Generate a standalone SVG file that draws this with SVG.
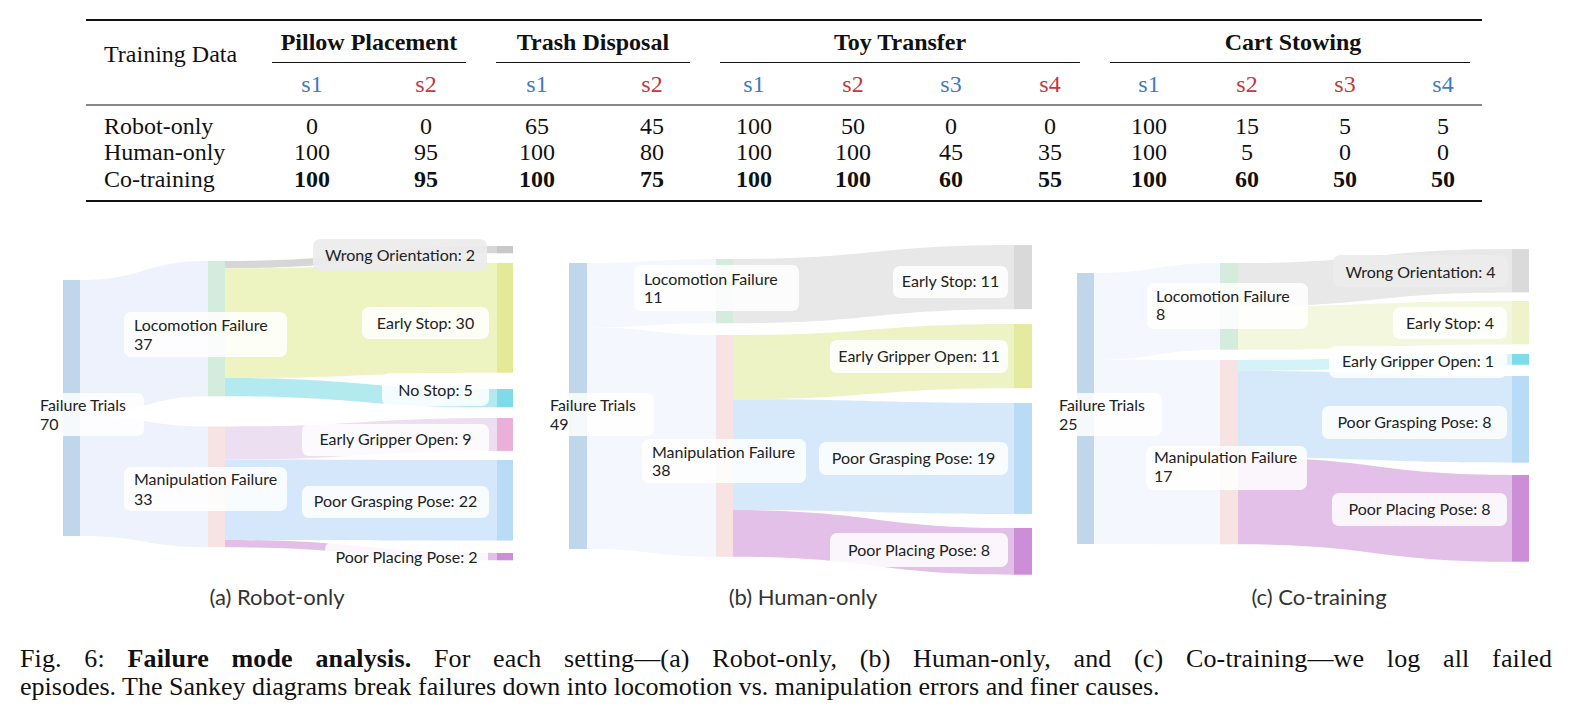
<svg xmlns="http://www.w3.org/2000/svg" width="1574" height="727" viewBox="0 0 1574 727">
<style>
.tt{font-family:"Liberation Serif","Times New Roman",serif;font-size:24px;fill:#111}
.cp{font-family:"Liberation Serif","Times New Roman",serif;font-size:26px;fill:#111}
.b{font-weight:bold}
.c{text-anchor:middle}
.blue{fill:#3b7cc3}
.red{fill:#c5383b}
.lb{fill:#ffffff;fill-opacity:0.85}
.lbg{fill:#ebebeb;fill-opacity:0.92}
.lt{font-family:Lato,"Open Sans",sans-serif;font-size:16px;fill:#222}
.cap{font-family:Lato,"Open Sans",sans-serif;font-size:22px;fill:#333;text-anchor:middle}
.ft{fill:#c0d6ea}.loco{fill:#d3ecdc}.manip{fill:#f8e3e3}
</style>
<rect width="1574" height="727" fill="#ffffff"/>

<g id="table">
<line x1="86" y1="20" x2="1482" y2="20" stroke="#111" stroke-width="2"/>
<line x1="86" y1="105" x2="1482" y2="105" stroke="#111" stroke-width="1.2"/>
<line x1="86" y1="201" x2="1482" y2="201" stroke="#111" stroke-width="2"/>
<g stroke="#111" stroke-width="1">
<line x1="272" y1="62.5" x2="466" y2="62.5"/>
<line x1="496" y1="62.5" x2="690" y2="62.5"/>
<line x1="720" y1="62.5" x2="1080" y2="62.5"/>
<line x1="1110" y1="62.5" x2="1470" y2="62.5"/>
</g>
<text class="tt" x="104" y="62">Training Data</text>
<text class="tt b c" x="369" y="50">Pillow Placement</text>
<text class="tt b c" x="593" y="50">Trash Disposal</text>
<text class="tt b c" x="900" y="50">Toy Transfer</text>
<text class="tt b c" x="1293" y="50">Cart Stowing</text>
<g class="tt c">
<text class="blue" x="312" y="92">s1</text>
<text class="red" x="426" y="92">s2</text>
<text class="blue" x="537" y="92">s1</text>
<text class="red" x="652" y="92">s2</text>
<text class="blue" x="754" y="92">s1</text>
<text class="red" x="853" y="92">s2</text>
<text class="blue" x="951" y="92">s3</text>
<text class="red" x="1050" y="92">s4</text>
<text class="blue" x="1149" y="92">s1</text>
<text class="red" x="1247" y="92">s2</text>
<text class="red" x="1345" y="92">s3</text>
<text class="blue" x="1443" y="92">s4</text>
</g>
<text class="tt" x="104" y="134">Robot-only</text>
<text class="tt" x="104" y="160">Human-only</text>
<text class="tt" x="104" y="187">Co-training</text>
<g class="tt c">
<text x="312" y="134">0</text><text x="426" y="134">0</text><text x="537" y="134">65</text><text x="652" y="134">45</text><text x="754" y="134">100</text><text x="853" y="134">50</text><text x="951" y="134">0</text><text x="1050" y="134">0</text><text x="1149" y="134">100</text><text x="1247" y="134">15</text><text x="1345" y="134">5</text><text x="1443" y="134">5</text>
<text x="312" y="160">100</text><text x="426" y="160">95</text><text x="537" y="160">100</text><text x="652" y="160">80</text><text x="754" y="160">100</text><text x="853" y="160">100</text><text x="951" y="160">45</text><text x="1050" y="160">35</text><text x="1149" y="160">100</text><text x="1247" y="160">5</text><text x="1345" y="160">0</text><text x="1443" y="160">0</text>
</g>
<g class="tt c b">
<text x="312" y="187">100</text><text x="426" y="187">95</text><text x="537" y="187">100</text><text x="652" y="187">75</text><text x="754" y="187">100</text><text x="853" y="187">100</text><text x="951" y="187">60</text><text x="1050" y="187">55</text><text x="1149" y="187">100</text><text x="1247" y="187">60</text><text x="1345" y="187">50</text><text x="1443" y="187">50</text>
</g>
</g>

<!-- (a) Robot-only -->
<g id="a-connectors">
<path fill="#eef2fc" d="M80 280 C144 280 144 261 208 261 L208 396.3 C144 396.3 144 415.3 80 415.3Z"/>
<path fill="#eef2fc" d="M80 415.3 C144 415.3 144 426.5 208 426.5 L208 547.2 C144 547.2 144 536 80 536Z"/>
<path fill="#d6d6d6" d="M225 261 C361 261 361 246 497 246 L497 253.3 C361 253.3 361 268.3 225 268.3Z"/>
<path fill="#eef3c2" d="M225 268.3 C361 268.3 361 263 497 263 L497 372.7 C361 372.7 361 378 225 378Z"/>
<path fill="#b3eaf0" d="M225 378 C361 378 361 389 497 389 L497 407.3 C361 407.3 361 396.3 225 396.3Z"/>
<path fill="#ecdff2" d="M225 426.5 C361 426.5 361 418 497 418 L497 450.9 C361 450.9 361 459.4 225 459.4Z"/>
<path fill="#d5e8fb" d="M225 459.4 C361 459.4 361 460 497 460 L497 540.5 C361 540.5 361 539.9 225 539.9Z"/>
<path fill="#e3bfe8" d="M225 539.9 C361 539.9 361 553 497 553 L497 560.3 C361 560.3 361 547.2 225 547.2Z"/>
</g>
<g id="a-failure-trials"><rect class="ft" x="63" y="280" width="17" height="256"/><rect class="lb" x="35" y="393" width="109" height="43" rx="7"/><text class="lt" x="40" y="411">Failure Trials</text><text class="lt" x="40" y="430">70</text></g>
<g id="a-locomotion"><rect class="loco" x="208" y="261" width="17" height="135.3"/><rect class="lb" x="124" y="312" width="163" height="45" rx="7"/><text class="lt" x="134" y="331">Locomotion Failure</text><text class="lt" x="134" y="350">37</text></g>
<g id="a-manipulation"><rect class="manip" x="208" y="426.5" width="17" height="120.7"/><rect class="lb" x="124" y="467" width="163" height="44" rx="7"/><text class="lt" x="134" y="485">Manipulation Failure</text><text class="lt" x="134" y="505">33</text></g>
<g id="a-wrong-orientation"><rect fill="#c8c8c8" x="497" y="246" width="16" height="7.3"/><rect class="lbg" x="313" y="239" width="174" height="32" rx="7"/><text class="lt c" x="400" y="261">Wrong Orientation: 2</text></g>
<g id="a-early-stop"><rect fill="#e3e995" x="497" y="263" width="16" height="109.7"/><rect class="lb" x="362" y="307" width="127" height="32" rx="7"/><text class="lt c" x="425.5" y="329">Early Stop: 30</text></g>
<g id="a-no-stop"><rect fill="#7ddce8" x="497" y="389" width="16" height="18.3"/><rect class="lb" x="382" y="373" width="107" height="33" rx="7"/><text class="lt c" x="435.5" y="396">No Stop: 5</text></g>
<g id="a-early-gripper-open"><rect fill="#ebb0da" x="497" y="418" width="16" height="32.9"/><rect class="lb" x="302" y="424" width="187" height="32" rx="7"/><text class="lt c" x="395.5" y="445">Early Gripper Open: 9</text></g>
<g id="a-poor-grasping-pose"><rect fill="#b8dbf6" x="497" y="460" width="16" height="80.5"/><rect class="lb" x="302" y="486" width="187" height="32" rx="7"/><text class="lt c" x="395.5" y="507">Poor Grasping Pose: 22</text></g>
<g id="a-poor-placing-pose"><rect fill="#cc8ed6" x="497" y="553" width="16" height="7.3"/><rect class="lb" x="325" y="542" width="163" height="32" rx="7"/><text class="lt c" x="406.5" y="563">Poor Placing Pose: 2</text></g>
<text class="cap" x="277" y="605">(a) Robot-only</text>

<!-- (b) Human-only -->
<g id="b-connectors">
<path fill="#f4f7fd" d="M587 263 C651.5 263 651.5 259 716 259 L716 323.2 C651.5 323.2 651.5 327.2 587 327.2Z"/>
<path fill="#f4f7fd" d="M587 327.2 C651.5 327.2 651.5 335 716 335 L716 556.8 C651.5 556.8 651.5 549 587 549Z"/>
<path fill="#e8e8e8" d="M733 259 C873.5 259 873.5 245 1014 245 L1014 309.2 C873.5 309.2 873.5 323.2 733 323.2Z"/>
<path fill="#eef3c5" d="M733 335 C873.5 335 873.5 324 1014 324 L1014 388.2 C873.5 388.2 873.5 399.2 733 399.2Z"/>
<path fill="#d6e9fb" d="M733 399.2 C873.5 399.2 873.5 403 1014 403 L1014 513.9 C873.5 513.9 873.5 510.1 733 510.1Z"/>
<path fill="#e2c0e8" d="M733 510.1 C873.5 510.1 873.5 528 1014 528 L1014 574.7 C873.5 574.7 873.5 556.8 733 556.8Z"/>
</g>
<g id="b-failure-trials"><rect class="ft" x="569" y="263" width="18" height="286"/><rect class="lb" x="541" y="393" width="113" height="43" rx="7"/><text class="lt" x="550" y="411">Failure Trials</text><text class="lt" x="550" y="430">49</text></g>
<g id="b-locomotion"><rect class="loco" x="716" y="259" width="17" height="64.2"/><rect class="lb" x="634" y="265" width="165" height="46" rx="7"/><text class="lt" x="644" y="285">Locomotion Failure</text><text class="lt" x="644" y="303">11</text></g>
<g id="b-manipulation"><rect class="manip" x="716" y="335" width="17" height="221.8"/><rect class="lb" x="642" y="439" width="164" height="44" rx="7"/><text class="lt" x="652" y="458">Manipulation Failure</text><text class="lt" x="652" y="476">38</text></g>
<g id="b-early-stop"><rect fill="#d9d9d9" x="1014" y="245" width="18" height="64.2"/><rect class="lb" x="893" y="266" width="115" height="32" rx="7"/><text class="lt c" x="950.5" y="287">Early Stop: 11</text></g>
<g id="b-early-gripper-open"><rect fill="#e4ea9f" x="1014" y="324" width="18" height="64.2"/><rect class="lb" x="830" y="340" width="178" height="33" rx="7"/><text class="lt c" x="919" y="362">Early Gripper Open: 11</text></g>
<g id="b-poor-grasping-pose"><rect fill="#b8dbf6" x="1014" y="403" width="18" height="110.9"/><rect class="lb" x="819" y="442" width="189" height="33" rx="7"/><text class="lt c" x="913.5" y="464">Poor Grasping Pose: 19</text></g>
<g id="b-poor-placing-pose"><rect fill="#cc8ed6" x="1014" y="528" width="18" height="46.7"/><rect class="lb" x="830" y="533" width="178" height="34" rx="7"/><text class="lt c" x="919" y="556">Poor Placing Pose: 8</text></g>
<text class="cap" x="803" y="605">(b) Human-only</text>

<!-- (c) Co-training -->
<g id="c-connectors">
<path fill="#f4f7fd" d="M1094 273 C1157 273 1157 263 1220 263 L1220 349.7 C1157 349.7 1157 359.7 1094 359.7Z"/>
<path fill="#f4f7fd" d="M1094 359.7 C1157 359.7 1157 360 1220 360 L1220 544.3 C1157 544.3 1157 544 1094 544Z"/>
<path fill="#e8e8e8" d="M1238 263 C1375 263 1375 249 1512 249 L1512 292.4 C1375 292.4 1375 306.4 1238 306.4Z"/>
<path fill="#f3f7dd" d="M1238 306.4 C1375 306.4 1375 301 1512 301 L1512 344.4 C1375 344.4 1375 349.7 1238 349.7Z"/>
<path fill="#d3f3f8" d="M1238 360 C1375 360 1375 354 1512 354 L1512 364.8 C1375 364.8 1375 370.8 1238 370.8Z"/>
<path fill="#d6e9fb" d="M1238 370.8 C1375 370.8 1375 376 1512 376 L1512 462.7 C1375 462.7 1375 457.5 1238 457.5Z"/>
<path fill="#e2c0e8" d="M1238 457.5 C1375 457.5 1375 475 1512 475 L1512 561.7 C1375 561.7 1375 544.3 1238 544.3Z"/>
</g>
<g id="c-failure-trials"><rect class="ft" x="1077" y="273" width="17" height="271"/><rect class="lb" x="1048" y="393" width="114" height="43" rx="7"/><text class="lt" x="1059" y="411">Failure Trials</text><text class="lt" x="1059" y="430">25</text></g>
<g id="c-locomotion"><rect class="loco" x="1220" y="263" width="18" height="86.7"/><rect class="lb" x="1147" y="283" width="161" height="46" rx="7"/><text class="lt" x="1156" y="302">Locomotion Failure</text><text class="lt" x="1156" y="320">8</text></g>
<g id="c-manipulation"><rect class="manip" x="1220" y="360" width="18" height="184.3"/><rect class="lb" x="1146" y="446" width="161" height="44" rx="7"/><text class="lt" x="1154" y="463">Manipulation Failure</text><text class="lt" x="1154" y="482">17</text></g>
<g id="c-wrong-orientation"><rect fill="#dadada" x="1512" y="249" width="17" height="43.4"/><rect class="lbg" x="1333" y="255" width="175" height="32" rx="7"/><text class="lt c" x="1420.5" y="278">Wrong Orientation: 4</text></g>
<g id="c-early-stop"><rect fill="#eef3c9" x="1512" y="301" width="17" height="43.4"/><rect class="lb" x="1393" y="307" width="114" height="32" rx="7"/><text class="lt c" x="1450" y="329">Early Stop: 4</text></g>
<g id="c-early-gripper-open"><rect fill="#7ddce8" x="1512" y="354" width="17" height="10.8"/><rect class="lb" x="1329" y="346" width="178" height="32" rx="7"/><text class="lt c" x="1418" y="367">Early Gripper Open: 1</text></g>
<g id="c-poor-grasping-pose"><rect fill="#b8dbf6" x="1512" y="376" width="17" height="86.7"/><rect class="lb" x="1322" y="406" width="185" height="33" rx="7"/><text class="lt c" x="1414.5" y="428">Poor Grasping Pose: 8</text></g>
<g id="c-poor-placing-pose"><rect fill="#cc8ed6" x="1512" y="475" width="17" height="86.7"/><rect class="lb" x="1332" y="493" width="175" height="33" rx="7"/><text class="lt c" x="1419.5" y="515">Poor Placing Pose: 8</text></g>
<text class="cap" x="1319" y="605">(c) Co-training</text>

<g id="caption">
<text class="cp" x="20" y="667" word-spacing="16" textLength="1532" lengthAdjust="spacing">Fig. 6: <tspan class="b">Failure mode analysis.</tspan> For each setting—(a) Robot-only, (b) Human-only, and (c) Co-training—we log all failed</text>
<text class="cp" x="20" y="695">episodes. The Sankey diagrams break failures down into locomotion vs. manipulation errors and finer causes.</text>
</g>
</svg>
